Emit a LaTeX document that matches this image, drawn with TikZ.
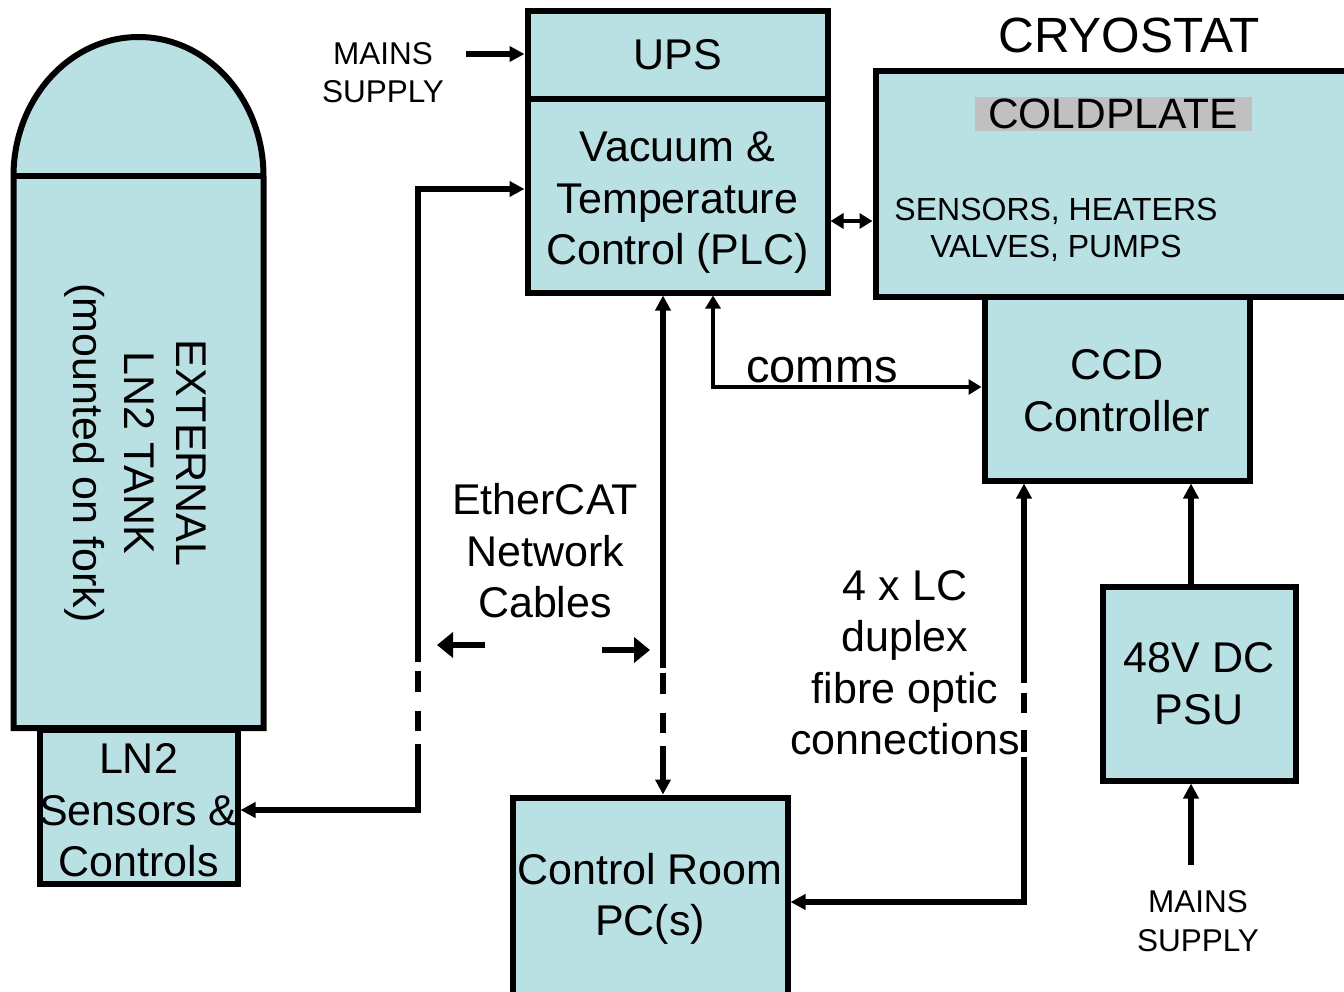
\documentclass[tikz,border=0pt]{standalone}
\usepackage{fontspec}
\setmainfont{Liberation Sans}
\usetikzlibrary{arrows.meta}
\definecolor{boxfill}{RGB}{185,224,227}
\definecolor{plategray}{RGB}{192,192,192}
\newcommand\fntL{\fontsize{43}{51.5}\selectfont}
\newcommand\fntS{\fontsize{31.5}{38.5}\selectfont}
\newcommand\fntSS{\fontsize{32}{37}\selectfont}
\newcommand\fntXL{\fontsize{49.5}{56}\selectfont}
\newcommand\fntC{\fontsize{47}{56}\selectfont}
\newcommand\fntP{\fontsize{42.5}{51.5}\selectfont}
\begin{document}
\begin{tikzpicture}[x=1pt,y=-1pt,
  box/.style={draw=black,fill=boxfill,line width=6pt,inner sep=0pt,align=center,font=\fntL},
  txt/.style={inner sep=0pt,align=center,font=\fntL},
  conn/.style={draw=black,line width=5.4pt,>={Triangle[length=15pt,width=15pt]}},
  connthin/.style={draw=black,line width=4.5pt,>={Triangle[length=13pt,width=15pt]}},
  connwide/.style={draw=black,line width=5.4pt,>={Triangle[length=16pt,width=25pt]}}]
\useasboundingbox (0,0) rectangle (1344,991);
\fill[white] (0,0) rectangle (1344,991);

% tank
\draw[fill=boxfill,line width=6pt,line join=miter]
  (13.5,728) -- (13.5,176) arc[start angle=180,end angle=360,x radius=125,y radius=139] -- (263.5,728) -- cycle;
\draw[line width=6pt] (13.5,176) -- (263.5,176);
\node[txt,rotate=-90] (tanktxt) at (135,453) {EXTERNAL\\LN2 TANK\\(mounted on fork)};

% boxes
\node[box,minimum width=198pt,minimum height=153.5pt] (ln2) at (138.5,806.75) {};
\node[txt] (ln2txt) at (138.5,810.5) {LN2\\Sensors \&\\Controls};
\node[box,minimum width=300pt,minimum height=87.5pt] (ups) at (677.5,54.75) {UPS};
\node[box,minimum width=300pt,minimum height=194pt] (plc) at (677.5,195.5) {};
\node[txt] (plctxt) at (677.5,203) {Vacuum \&\\Temperature\\Control (PLC)};
\node[box,minimum width=484.5pt,minimum height=226pt] (cryo) at (1117.75,183.5) {};
\node[box,minimum width=265pt,minimum height=184pt] (ccd) at (1117,388.5) {};
\node[txt] (ccdtxt) at (1117,390.5) {CCD\\Controller};
\node[box,minimum width=193pt,minimum height=194pt] (psu) at (1199,683.5) {48V DC\\PSU};
\node[box,minimum width=275pt,minimum height=197pt] (pc) at (650,896) {};
\node[txt] (pctxt) at (650,899) {Control Room\\PC(s)};

% texts
\node[txt,font=\fntXL] (cryotitle) at (1129,35) {CRYOSTAT};
\node[txt,font=\fntP,fill=plategray,minimum width=277pt,minimum height=34pt] (plate) at (1113,114) {COLDPLATE};
\node[txt,font=\fntSS] (sens) at (1056,229.5) {SENSORS, HEATERS\\VALVES, PUMPS};
\node[txt,font=\fntS] (mains1) at (383,72.5) {MAINS\\SUPPLY};
\node[txt,font=\fntS] (mains2) at (1198,921) {MAINS\\SUPPLY};
\node[txt] (ether) at (545,551) {EtherCAT\\Network\\Cables};
\node[txt] (fibre) at (905,662.5) {4 x LC\\duplex\\fibre optic\\connections};
\node[txt,font=\fntC] (comms) at (822,370) {comms};

% coordinates
\coordinate (m1) at (466,54);
\coordinate (ethL) at (418,189);
\coordinate (ethLb) at (418,810);
\coordinate (ethR) at (663,500);
\coordinate (cm) at (713,387);
\coordinate (pcy) at (850,221);
\coordinate (fib) at (1024,902);
\coordinate (psx) at (1191,530);
\coordinate (m2) at (1191,865);
\coordinate (ea1) at (485,645);
\coordinate (ea2) at (437,645);
\coordinate (eb1) at (602,650);
\coordinate (eb2) at (650,650);

% connectors
\draw[conn,->] (m1) -- (ups.west |- m1);
\draw[conn,<->,dash pattern=on 565pt off 9pt on 21pt off 19pt on 20pt off 13pt on 600pt]
  (plc.west |- ethL) -- (ethL) -- (ethLb) -- (ln2.east |- ethLb);
\draw[conn,<->,dash pattern=on 358pt off 5pt on 21pt off 19pt on 20pt off 13pt on 300pt]
  (plc.south -| ethR) -- (pc.north -| ethR);
\draw[connthin,<->] (plc.east |- pcy) -- (cryo.west |- pcy);
\draw[connthin,<->] (plc.south -| cm) -- (cm) -- (ccd.west |- cm);
\draw[conn,<->,dash pattern=on 185pt off 10pt on 20pt off 17pt on 22pt off 5pt on 600pt]
  (ccd.south -| fib) -- (fib) -- (pc.east |- fib);
\draw[conn,->] (psu.north -| psx) -- (ccd.south -| psx);
\draw[conn,->] (m2) -- (psu.south -| m2);
\draw[connwide,->] (ea1) -- (ea2);
\draw[connwide,->] (eb1) -- (eb2);
\end{tikzpicture}
\end{document}
